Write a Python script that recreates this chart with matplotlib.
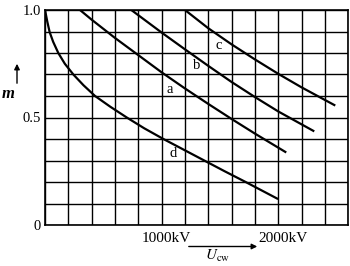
import numpy as np
import matplotlib
matplotlib.use("Agg")
import matplotlib.pyplot as plt
import matplotlib.transforms as mtransforms

# curve data (U in kV, m)
a_u = [300, 400, 600, 800, 1000, 1200, 1400, 1600, 1800, 2060]
a_m = [1.0, 0.955, 0.87, 0.79, 0.71, 0.635, 0.563, 0.493, 0.425, 0.34]
b_u = [740, 1000, 1200, 1400, 1600, 1800, 2000, 2300]
b_m = [1.0, 0.895, 0.817, 0.74, 0.665, 0.595, 0.528, 0.438]
c_u = [1200, 1400, 1600, 1800, 2000, 2200, 2480]
c_m = [1.0, 0.915, 0.84, 0.77, 0.703, 0.64, 0.558]
d_u = [0, 20, 40, 70, 114, 170, 243, 330, 429, 560, 701, 850, 1015, 1190, 1365, 1540, 1720, 1990]
d_m = [1.0, 0.945, 0.897, 0.852, 0.8, 0.75, 0.7, 0.65, 0.6, 0.55, 0.5, 0.45, 0.4, 0.35, 0.3, 0.25, 0.2, 0.123]

curve_labels = ['a', 'b', 'c', 'd']
label_u = [1073, 1302, 1488, 1096]
label_m = [0.628, 0.744, 0.837, 0.333]

x_ticks = [1000, 2000]
x_ticklabels = ['1000kV', '2000kV']
y_ticks = [0, 0.5, 1.0]
y_ticklabels = ['0', '0.5', '1.0']

plt.rcParams['font.family'] = ['Liberation Serif', 'DejaVu Serif']

fig = plt.figure(figsize=(3.5, 2.66), dpi=100)
ax = fig.add_axes([45/350, 1-225/266, (348.3-45)/350, (225-10)/266])
ax.set_xlim(0, 2600)
ax.set_ylim(0, 1.0)

# grid
for gx in np.arange(0, 2601, 200):
    ax.axvline(gx, color='black', lw=1.0, zorder=1)
for gy in np.arange(0, 1.01, 0.1):
    ax.axhline(gy, color='black', lw=1.0, zorder=1)

for u, m in [(a_u, a_m), (b_u, b_m), (c_u, c_m), (d_u, d_m)]:
    ax.plot(u, m, color='black', lw=1.6, zorder=3, solid_joinstyle='round')

for t, u, m in zip(curve_labels, label_u, label_m):
    ax.text(u, m, t, fontsize=10.5, ha='center', va='center', zorder=4)

for s in ax.spines.values():
    s.set_linewidth(1.2)

ax.set_xticks(x_ticks)
ax.set_xticklabels(x_ticklabels, fontsize=11)
ax.set_yticks(y_ticks)
ax.set_yticklabels(y_ticklabels, fontsize=10.5)
ax.tick_params(length=0, pad=3)
ax.tick_params(axis='x', pad=5)
shift = mtransforms.ScaledTranslation(5/100, 0, fig.dpi_scale_trans)
for lab in ax.get_xticklabels():
    lab.set_transform(lab.get_transform() + shift)

# axis names with arrows
fig.text(8/350, 1-94/266, 'm', fontsize=12, style='italic', weight='bold', ha='center', va='center')
fig.add_artist(matplotlib.patches.FancyArrowPatch((17/350, 1-86/266), (17/350, 1-61/266),
               transform=fig.transFigure, arrowstyle='-|>', mutation_scale=8, color='black', lw=1.0))
fig.add_artist(matplotlib.patches.FancyArrowPatch((186/350, 1-246.5/266), (260/350, 1-246.5/266),
               transform=fig.transFigure, arrowstyle='-|>', mutation_scale=8, color='black', lw=1.0))
fig.text(218/350, 1-256/266, r'$U_{\mathrm{cw}}$', fontsize=11, ha='center', va='center',
         math_fontfamily='stix')

fig.savefig('out.png', dpi=100)
